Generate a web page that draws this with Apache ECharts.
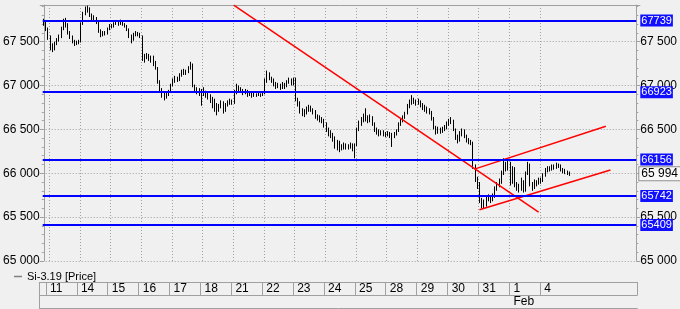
<!DOCTYPE html>
<html><head><meta charset="utf-8">
<script src="https://cdn.jsdelivr.net/npm/echarts@6/dist/echarts.min.js"></script>
<style>html,body{margin:0;padding:0;background:#f0f0f0}#c{width:680px;height:309px}</style>
</head><body><div id="c"></div>
<script>
// ---- data ----
const seriesName = 'Si-3.19 [Price]';
const dayLabels = ['11','14','15','16','17','18','21','22','23','24','25','28','29','30','31','1','4'];
const monthLabels = ['','','','','','','','','','','','','','','','Feb',''];
const preBars = 3;        // hourly bars of the partially visible day before the 11th
const barsPerDay = 14;    // hourly bars per trading day
const totalSlots = 271;   // bar slots across the plot (including empty right margin)
const levels = [67739, 66923, 66156, 65742, 65409];
const lastPrice = 65994;
const yMin = 65000, yMax = 67917, yStep = 500;
// trend lines: [barIndex, price] endpoints
const trendDown = [[86.7, 67915], [225.9, 65557]];
const channelUpper = [[196.6, 66047], [256.6, 66535]];
const channelLower = [[198.9, 65584], [258.7, 66036]];
// candles: [open, close, low, high]
const candles = [
[67700,67720,67680,67760],[67720,67650,67620,67730],[67650,67560,67520,67660],
// 11
[67560,67450,67400,67570],[67450,67420,67380,67480],[67420,67480,67400,67500],[67480,67520,67460,67540],[67520,67560,67500,67580],[67560,67650,67540,67670],[67650,67720,67630,67760],[67720,67700,67660,67770],[67700,67600,67580,67710],[67600,67560,67530,67620],[67560,67500,67480,67570],[67500,67470,67450,67520],[67470,67490,67460,67510],[67490,67500,67470,67520],
// 14
[67500,67700,67490,67720],[67700,67820,67690,67840],[67820,67860,67800,67900],[67860,67880,67830,67910],[67880,67800,67780,67890],[67800,67780,67740,67820],[67780,67760,67730,67800],[67760,67720,67700,67780],[67720,67620,67600,67730],[67620,67580,67550,67640],[67580,67600,67560,67620],[67600,67590,67570,67620],[67590,67640,67580,67660],[67640,67680,67630,67700],
// 15
[67680,67670,67650,67700],[67670,67700,67660,67720],[67700,67720,67690,67740],[67720,67700,67680,67730],[67700,67730,67690,67750],[67730,67700,67680,67740],[67700,67680,67660,67710],[67680,67640,67620,67690],[67640,67560,67540,67650],[67560,67520,67480,67580],[67520,67580,67510,67600],[67580,67600,67560,67620],[67600,67580,67560,67610],[67580,67560,67540,67600],
// 16
[67560,67300,67280,67570],[67300,67320,67260,67360],[67320,67350,67300,67370],[67350,67300,67280,67360],[67300,67320,67260,67340],[67320,67260,67220,67340],[67260,67200,67180,67280],[67200,67050,67020,67210],[67050,66950,66920,67060],[66950,66900,66860,66970],[66900,66880,66830,66920],[66880,66900,66850,66920],[66900,66930,66880,66950],[66930,67000,66920,67020],
// 17
[67000,67050,66990,67080],[67050,67080,67030,67110],[67080,67060,67040,67100],[67060,67120,67050,67140],[67120,67140,67100,67180],[67140,67160,67120,67190],[67160,67150,67120,67180],[67150,67200,67140,67220],[67200,67240,67180,67270],[67240,67000,66980,67250],[67000,66960,66930,67010],[66960,66950,66900,66980],[66950,66930,66880,66970],[66930,66940,66770,66960],
// 18
[66940,66920,66880,66980],[66920,66900,66860,66940],[66900,66880,66840,66920],[66880,66850,66800,66900],[66850,66820,66740,66870],[66820,66780,66700,66850],[66780,66760,66660,66800],[66760,66750,66700,66790],[66750,66800,66740,66830],[66800,66720,66680,66820],[66720,66780,66700,66800],[66780,66800,66760,66830],[66800,66820,66780,66850],[66820,66800,66780,66840],
// 21
[66800,66930,66790,66950],[66930,66980,66900,67020],[66980,66960,66930,67000],[66960,66950,66920,66980],[66950,66920,66890,66960],[66920,66940,66900,66960],[66940,66900,66870,66950],[66900,66910,66880,66930],[66910,66880,66860,66920],[66880,66900,66870,66920],[66900,66890,66870,66910],[66890,66900,66880,66920],[66900,66890,66870,66910],[66890,66910,66880,66930],
// 22
[66910,67050,66900,67080],[67050,67130,67030,67170],[67130,67080,67060,67150],[67080,67060,67030,67100],[67060,67020,66990,67080],[67020,66990,66960,67040],[66990,67000,66970,67030],[67000,66980,66950,67020],[66980,67010,66960,67040],[67010,66990,66960,67030],[66990,67040,66980,67060],[67040,67060,67020,67090],[67060,67020,67000,67080],[67020,67080,67000,67090],
// 23
[67080,66850,66820,67090],[66850,66800,66760,66860],[66800,66720,66680,66820],[66720,66700,66650,66740],[66700,66680,66640,66730],[66680,66720,66670,66760],[66720,66750,66700,66780],[66750,66730,66700,66770],[66730,66700,66670,66740],[66700,66650,66620,66720],[66650,66640,66600,66670],[66640,66620,66580,66660],[66620,66600,66570,66640],[66600,66560,66520,66620],
// 24
[66560,66500,66470,66580],[66500,66470,66420,66520],[66470,66450,66400,66490],[66450,66400,66360,66460],[66400,66320,66280,66420],[66320,66350,66260,66380],[66350,66280,66240,66370],[66280,66300,66260,66330],[66300,66320,66270,66350],[66320,66300,66270,66340],[66300,66300,66270,66330],[66300,66330,66280,66350],[66330,66290,66250,66340],[66290,66320,66170,66340],
// 25
[66320,66500,66310,66520],[66500,66560,66480,66600],[66560,66600,66540,66640],[66600,66620,66580,66680],[66620,66640,66590,66740],[66640,66600,66570,66660],[66600,66640,66580,66670],[66640,66560,66540,66650],[66560,66500,66470,66580],[66500,66480,66440,66520],[66480,66460,66420,66500],[66460,66470,66430,66490],[66470,66450,66420,66490],[66450,66440,66410,66470],
// 28
[66440,66460,66420,66480],[66460,66440,66400,66470],[66440,66420,66300,66460],[66420,66450,66400,66470],[66450,66480,66430,66500],[66480,66560,66470,66580],[66560,66600,66540,66630],[66600,66640,66580,66660],[66640,66680,66620,66700],[66680,66760,66670,66790],[66760,66800,66740,66840],[66800,66840,66780,66890],[66840,66820,66790,66860],[66820,66800,66770,66840],
// 29
[66800,66820,66780,66850],[66820,66780,66750,66830],[66780,66760,66720,66800],[66760,66740,66700,66780],[66740,66720,66680,66760],[66720,66700,66670,66740],[66700,66620,66600,66710],[66620,66520,66500,66640],[66520,66460,66440,66540],[66460,66500,66450,66530],[66500,66480,66450,66520],[66480,66500,66460,66530],[66500,66520,66480,66550],[66520,66560,66500,66590],
// 30
[66560,66580,66540,66620],[66580,66600,66560,66640],[66600,66500,66480,66610],[66500,66420,66380,66510],[66420,66380,66340,66440],[66380,66450,66360,66480],[66450,66480,66420,66510],[66480,66420,66400,66500],[66420,66380,66350,66440],[66380,66360,66330,66400],[66360,66350,66320,66380],[66350,66080,66050,66360],[66080,65950,65900,66100],[65950,65880,65820,65960],
// 31
[65880,65700,65660,65900],[65700,65650,65600,65720],[65650,65640,65600,65700],[65640,65700,65620,65730],[65700,65720,65680,65760],[65720,65700,65660,65740],[65700,65740,65680,65770],[65740,65820,65720,65850],[65820,65860,65800,65900],[65860,65900,65840,65940],[65900,66000,65880,66030],[66000,66100,65980,66170],[66100,66050,66020,66130],[66050,66120,66030,66150],
// 1 Feb
[66120,65900,65860,66130],[65900,66050,65880,66080],[66050,65880,65840,66070],[65880,65850,65800,65900],[65850,65820,65780,65880],[65820,65900,65800,65950],[65900,65800,65780,65920],[65800,66000,65790,66020],[66000,66100,65980,66130],[66100,65880,65850,66110],[65880,65840,65800,65900],[65840,65900,65820,65930],[65900,65880,65850,65920],[65880,65920,65870,65950],
// 4
[65920,65920,65880,65950],[65920,65980,65900,66000],[65980,66030,65960,66060],[66030,66060,66010,66080],[66060,66050,66020,66080],[66050,66080,66030,66100],[66080,66060,66040,66100],[66060,66100,66050,66120],[66100,66080,66060,66110],[66080,66040,66020,66100],[66040,66030,66000,66060],[66030,66010,65990,66050],[66010,66000,65980,66030],[66000,65994,65970,66020]
];

// ---- helpers ----
const FONT = 'Liberation Sans, Arial, sans-serif';
const GRAY = '#a0a0a0';
const cats = Array.from({length: totalSlots}, (_, i) => String(i));
function dayOf(i) { return (i - preBars) / barsPerDay; }
function isDayStart(i) { const d = dayOf(i); return i >= preBars && Number.isInteger(d) && d < dayLabels.length; }
function fmt(v) { return String(Math.round(v)).replace(/\B(?=(\d{3})+(?!\d))/g, ' '); }

const chart = echarts.init(document.getElementById('c'), null, {renderer: 'canvas'});

const hiddenAxis = {axisLine:{show:false}, axisTick:{show:false}, axisLabel:{show:false}, splitLine:{show:false}};

const option = {
  animation: false,
  backgroundColor: '#f0f0f0',
  textStyle: {fontFamily: FONT},
  legend: {
    left: 9, top: 266, itemWidth: 8, itemHeight: 1.5, itemGap: 10,
    textStyle: {fontFamily: FONT, fontSize: 11, color: '#000'},
    data: [{name: seriesName, icon: 'rect', itemStyle: {color: '#808080', borderWidth: 0}}]
  },
  grid: [
    {left: 39.3, right: 42.3, top: 5, height: 256},
    {left: 39.3, right: 42.7, top: 282, height: 13},
    {left: 39.3, right: 42.7, top: 295, height: 13}
  ],
  xAxis: [
    { type: 'category', gridIndex: 0, data: cats, boundaryGap: true, position: 'bottom',
      axisLine: {show: false, onZero: false}, axisTick: {show: false}, axisLabel: {show: false},
      splitLine: {show: true, interval: (i) => isDayStart(i), lineStyle: {color: GRAY, type: [1, 2], width: 1}} },
    { type: 'value', gridIndex: 0, min: -0.5, max: totalSlots - 0.5, position: 'top',
      axisLine: {show: true, onZero: false, lineStyle: {color: GRAY}}, axisTick: {show: false}, axisLabel: {show: false}, splitLine: {show: false} },
    { type: 'category', gridIndex: 1, data: cats, boundaryGap: true, position: 'top',
      axisLine: {show: true, onZero: false, lineStyle: {color: GRAY}}, axisTick: {show: false},
      splitLine: {show: true, interval: (i) => i === 0 || isDayStart(i), lineStyle: {color: GRAY, width: 1}},
      axisLabel: {show: true, inside: true, interval: (i) => isDayStart(i), formatter: (v, i) => dayLabels[dayOf(i)],
        align: 'left', padding: [0, 0, 0, 3], margin: 1, fontSize: 12, color: '#000', fontFamily: FONT} },
    { type: 'category', gridIndex: 2, data: cats, boundaryGap: true, position: 'top',
      axisLine: {show: true, onZero: false, lineStyle: {color: GRAY}}, axisTick: {show: false}, splitLine: {show: false},
      axisLabel: {show: true, inside: true, interval: (i) => isDayStart(i) && monthLabels[dayOf(i)] !== '',
        formatter: (v, i) => monthLabels[dayOf(i)], align: 'left', padding: [0, 0, 0, 3], margin: 1, fontSize: 12, color: '#000', fontFamily: FONT} },
    { type: 'category', gridIndex: 2, data: cats, boundaryGap: true, position: 'bottom',
      axisLine: {show: true, onZero: false, lineStyle: {color: GRAY}}, axisTick: {show: false}, axisLabel: {show: false}, splitLine: {show: false} }
  ],
  yAxis: [
    { type: 'value', gridIndex: 0, min: yMin, max: yMax, interval: yStep, position: 'left',
      axisLine: {show: true, lineStyle: {color: GRAY}},
      axisTick: {show: true, length: 4, lineStyle: {color: GRAY}},
      minorTick: {show: true, splitNumber: 5, length: 2, lineStyle: {color: GRAY}},
      splitLine: {show: true, lineStyle: {color: GRAY, type: [1, 2]}},
      axisLabel: {formatter: fmt, margin: 3, fontSize: 12, color: '#000', fontFamily: FONT, showMaxLabel: false} },
    { type: 'value', gridIndex: 0, min: yMin, max: yMax, interval: yStep, position: 'right',
      axisLine: {show: true, lineStyle: {color: GRAY}},
      axisTick: {show: true, length: 4, lineStyle: {color: GRAY}},
      minorTick: {show: true, splitNumber: 5, length: 2, lineStyle: {color: GRAY}},
      splitLine: {show: false},
      axisLabel: {formatter: fmt, margin: 4, fontSize: 12, color: '#000', fontFamily: FONT, showMaxLabel: false} },
    Object.assign({type: 'value', gridIndex: 1}, hiddenAxis),
    { type: 'value', gridIndex: 2, axisLine: {show: true, lineStyle: {color: GRAY}}, axisTick: {show: false}, axisLabel: {show: false}, splitLine: {show: false} }
  ],
  series: [
    { name: seriesName, type: 'candlestick', xAxisIndex: 0, yAxisIndex: 0, data: candles,
      barWidth: '50%',
      itemStyle: {color: '#ffffff', color0: '#000000', borderColor: '#000000', borderColor0: '#000000', borderWidth: 1},
      markLine: {
        silent: true, symbol: ['none', 'none'], animation: false,
        data: levels.map(v => ({
          yAxis: v,
          lineStyle: {color: '#0000ff', width: 2, type: 'solid'},
          label: {show: true, position: 'end', distance: 4, formatter: String(v), color: '#ffffff',
            backgroundColor: '#1010ff', fontSize: 11, fontFamily: FONT, padding: [1, 1, 0, 1], lineHeight: 11}
        })).concat([{
          yAxis: lastPrice,
          lineStyle: {color: 'transparent', width: 0},
          label: {show: true, position: 'end', distance: 3, formatter: fmt(lastPrice), color: '#000',
            backgroundColor: '#f8f8f8', borderColor: '#909090', borderWidth: 1, fontSize: 12, fontFamily: FONT,
            padding: [1, 2, 0, 2], lineHeight: 12}
        }])
      }
    },
    ...[trendDown, channelUpper, channelLower].map(pts => ({
      type: 'line', xAxisIndex: 1, yAxisIndex: 0, data: pts, symbol: 'none', silent: true, clip: true,
      lineStyle: {color: '#ff0000', width: 1.5}, z: 3
    }))
  ]
};
chart.setOption(option);
</script>
</body></html>
